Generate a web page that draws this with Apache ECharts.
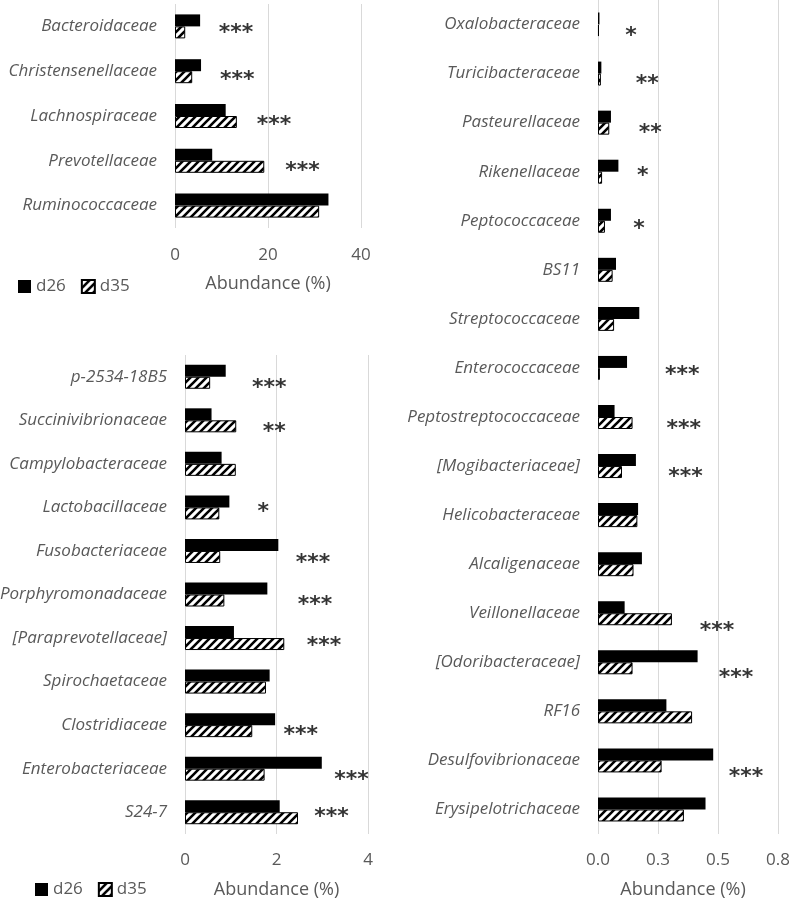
<!DOCTYPE html>
<html>
<head>
<meta charset="utf-8">
<script src="https://cdn.jsdelivr.net/npm/echarts@6/dist/echarts.min.js"></script>
<style>
  html, body { margin: 0; padding: 0; background: #fff; }
  #chart { width: 789px; height: 899px; }
</style>
</head>
<body>
<div id="chart"></div>
<script>
// top-left panel (major families)
const topCats = ["Bacteroidaceae", "Christensenellaceae", "Lachnospiraceae", "Prevotellaceae", "Ruminococcaceae"];
const topD26 = [5.4, 5.6, 10.9, 8.0, 33.0];
const topD35 = [2.2, 3.7, 13.3, 19.2, 31.0];
// [category, marker, x position, row shift]
const topStars = [
  ["Bacteroidaceae", "***", 13.1, 0.04],
  ["Christensenellaceae", "***", 13.4, 0.1],
  ["Lachnospiraceae", "***", 21.3, 0.1],
  ["Prevotellaceae", "***", 27.4, 0.12]
];

// bottom-left panel
const midCats = ["p-2534-18B5", "Succinivibrionaceae", "Campylobacteraceae", "Lactobacillaceae",
  "Fusobacteriaceae", "Porphyromonadaceae", "[Paraprevotellaceae]", "Spirochaetaceae",
  "Clostridiaceae", "Enterobacteriaceae", "S24-7"];
const midD26 = [0.89, 0.58, 0.80, 0.97, 2.04, 1.80, 1.07, 1.85, 1.97, 2.99, 2.07];
const midD35 = [0.55, 1.12, 1.11, 0.75, 0.77, 0.86, 2.17, 1.77, 1.47, 1.74, 2.47];
const midStars = [
  ["p-2534-18B5", "***", 1.84, 0.15],
  ["Succinivibrionaceae", "**", 1.95, 0.15],
  ["Lactobacillaceae", "*", 1.71, 0],
  ["Fusobacteriaceae", "***", 2.80, 0.16],
  ["Porphyromonadaceae", "***", 2.84, 0.13],
  ["[Paraprevotellaceae]", "***", 3.04, 0.07],
  ["Clostridiaceae", "***", 2.53, 0.11],
  ["Enterobacteriaceae", "***", 3.64, 0.16],
  ["S24-7", "***", 3.20, 0]
];

// right panel (minor families)
const lowCats = ["Oxalobacteraceae", "Turicibacteraceae", "Pasteurellaceae", "Rikenellaceae",
  "Peptococcaceae", "BS11", "Streptococcaceae", "Enterococcaceae", "Peptostreptococcaceae",
  "[Mogibacteriaceae]", "Helicobacteraceae", "Alcaligenaceae", "Veillonellaceae",
  "[Odoribacteraceae]", "RF16", "Desulfovibrionaceae", "Erysipelotrichaceae"];
const lowD26 = [0.006, 0.014, 0.054, 0.085, 0.054, 0.075, 0.172, 0.121, 0.069,
  0.158, 0.167, 0.183, 0.111, 0.415, 0.285, 0.480, 0.448];
const lowD35 = [0.004, 0.012, 0.047, 0.017, 0.029, 0.061, 0.067, 0.008, 0.144,
  0.100, 0.164, 0.148, 0.308, 0.144, 0.392, 0.265, 0.358];
const lowStars = [
  ["Oxalobacteraceae", "*", 0.138, 0.14],
  ["Turicibacteraceae", "**", 0.205, 0.12],
  ["Pasteurellaceae", "**", 0.218, 0.11],
  ["Rikenellaceae", "*", 0.186, 0],
  ["Peptococcaceae", "*", 0.171, 0.07],
  ["Enterococcaceae", "***", 0.351, 0.04],
  ["Peptostreptococcaceae", "***", 0.357, 0.15],
  ["[Mogibacteriaceae]", "***", 0.365, 0.13],
  ["Veillonellaceae", "***", 0.496, 0.27],
  ["[Odoribacteraceae]", "***", 0.575, 0.23],
  ["Desulfovibrionaceae", "***", 0.617, 0.25]
];

const gray = "#595959";
const FONT = "Open Sans";

function hatch() {
  const c = document.createElement("canvas");
  c.width = 8; c.height = 8;
  const ctx = c.getContext("2d");
  ctx.fillStyle = "#fff";
  ctx.fillRect(0, 0, 8, 8);
  ctx.strokeStyle = "#000";
  ctx.lineWidth = 2.6;
  ctx.beginPath();
  ctx.moveTo(0, 8); ctx.lineTo(8, 0);
  ctx.moveTo(-2, 2); ctx.lineTo(2, -2);
  ctx.moveTo(6, 10); ctx.lineTo(10, 6);
  ctx.stroke();
  return c;
}
const hatchFill = { image: hatch(), repeat: "repeat" };

const panels = [
  { cats: topCats, d26: topD26, d35: topD35, stars: topStars, max: 40, interval: 20,
    grid: { left: 175, top: 4, width: 186, height: 224 }, fmt: v => String(v),
    labelMargin: 19, nameGap: 47, namePad: [0, 0, 0, 0] },
  { cats: midCats, d26: midD26, d35: midD35, stars: midStars, max: 4, interval: 2,
    grid: { left: 185, top: 355, width: 183, height: 479 }, fmt: v => String(v),
    labelMargin: 18, nameGap: 47, namePad: [0, 0, 0, 0] },
  { cats: lowCats, d26: lowD26, d35: lowD35, stars: lowStars, max: 0.75, interval: 0.25,
    grid: { left: 598, top: 0, width: 180, height: 834 }, fmt: v => v.toFixed(1),
    labelMargin: 18, nameGap: 47, namePad: [0, 10, 0, 0] }
];

const legendBase = {
  data: ["d26", "d35"], icon: "rect", padding: 0, itemWidth: 13, itemHeight: 13, itemGap: 15,
  textStyle: { color: gray, fontSize: 17 }
};

const option = {
  animation: false,
  textStyle: { fontFamily: FONT },
  legend: [
    Object.assign({ left: 18, top: 278 }, legendBase),
    Object.assign({ left: 35, top: 881 }, legendBase)
  ],
  grid: [], xAxis: [], yAxis: [], series: []
};

panels.forEach((p, i) => {
  option.grid.push(Object.assign({ outerBoundsMode: "none", containLabel: false }, p.grid));
  option.xAxis.push({
    type: "value", gridIndex: i, min: 0, max: p.max, interval: p.interval,
    axisLine: { show: false }, axisTick: { show: false },
    splitLine: { lineStyle: { color: "#d9d9d9", width: 1 } },
    axisLabel: { color: gray, fontSize: 17, margin: p.labelMargin, formatter: p.fmt },
    name: "Abundance (%)", nameLocation: "middle", nameGap: p.nameGap,
    nameTextStyle: { color: gray, fontSize: 18, padding: p.namePad }
  });
  option.yAxis.push({
    type: "category", gridIndex: i, data: p.cats, inverse: true,
    axisLine: { show: false }, axisTick: { show: false },
    axisLabel: { color: gray, fontSize: 17, fontStyle: "italic", margin: 18 }
  });
  option.yAxis.push({
    type: "value", gridIndex: i, inverse: true, min: -0.5, max: p.cats.length - 0.5, show: false
  });
  option.series.push({
    name: "d26", type: "bar", xAxisIndex: i, yAxisIndex: i * 2, data: p.d26,
    barWidth: 12, barGap: "0%", itemStyle: { color: "#000" }
  });
  option.series.push({
    name: "d35", type: "bar", xAxisIndex: i, yAxisIndex: i * 2, data: p.d35,
    barWidth: 12, barGap: "0%",
    itemStyle: { color: hatchFill, borderColor: "#000", borderWidth: 1 }
  });
  option.series.push({
    name: "sig", type: "scatter", xAxisIndex: i, yAxisIndex: i * 2 + 1,
    symbolSize: 1, itemStyle: { color: "rgba(0,0,0,0)" }, silent: true,
    data: p.stars.map(s => ({ name: s[1], value: [s[2], p.cats.indexOf(s[0]) + s[3]] })),
    label: { show: true, position: "inside", formatter: d => d.name,
      color: "#000", fontSize: 22, fontWeight: "bold", fontFamily: "DejaVu Sans",
      offset: [0, 5] }
  });
});

const chart = echarts.init(document.getElementById("chart"));
chart.setOption(option);
</script>
</body>
</html>
